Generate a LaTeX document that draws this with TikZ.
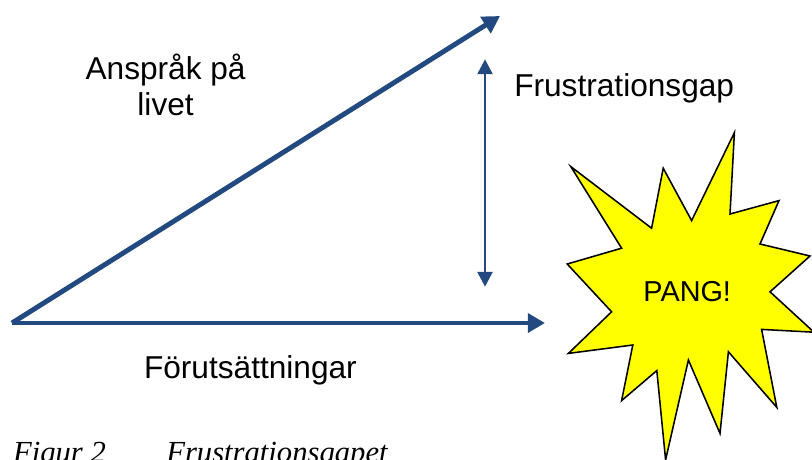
\documentclass[tikz,border=0pt]{standalone}
\usepackage{fontspec}
\setmainfont{Liberation Sans}
\newfontfamily\captionfont{Liberation Serif}
\usetikzlibrary{arrows.meta}
\definecolor{pilblue}{RGB}{34,74,128}
\definecolor{pangyellow}{RGB}{255,255,0}

\begin{document}
\begin{tikzpicture}[
    font=\fontsize{22.5}{25.5}\selectfont,
    thickarrow/.style={draw=pilblue, line width=3.5pt, -{Triangle[length=0.43cm, width=0.47cm]}},
    gaparrow/.style={draw=pilblue, line width=1.4pt, {Triangle[length=0.37cm, width=0.38cm]}-{Triangle[length=0.37cm, width=0.38cm]}},
    label/.style={inner sep=0, anchor=base},
    burst/.style={draw=black, line width=1.1pt, fill=pangyellow, line join=miter}
]
\useasboundingbox (0,0) rectangle (20.3,11.475);

% ============================================
% PUNKTER
% ============================================
\coordinate (origo) at (0.3, 3.4);
\coordinate (ansprak) at (12.5, 11.075);
\coordinate (forut) at (13.625, 3.4);
\coordinate (gaptop) at (12.125, 9.99);
\coordinate (gapbot) at (12.125, 4.31);

% ============================================
% PILAR
% ============================================
\draw[thickarrow] (origo) -- (ansprak);
\draw[thickarrow] (origo) -- (forut);
\draw[gaparrow] (gapbot) -- (gaptop);

% ============================================
% TEXTER
% ============================================
\node[label] (anspraktext) at (4.14, 9.49) {Anspråk på};
\node[label] (livettext) at (4.14, 8.6) {livet};
\node[label, anchor=base west] (gaptext) at (12.85, 9.06) {Frustrationsgap};
\node[label] (forutext) at (6.26, 2.02) {Förutsättningar};

% ============================================
% PANG
% ============================================
\draw[burst] (18.36, 8.16) -- (18.25, 6.125) -- (19.475, 6.46) -- (19.0, 5.375)
    -- (20.25, 5.075) -- (19.25, 4.18) -- (20.35, 3.17) -- (19.04, 3.24)
    -- (19.42, 1.29) -- (18.21, 2.68) -- (18.0, 0.64) -- (17.21, 2.475)
    -- (16.64, -0.02) -- (16.42, 2.21) -- (15.54, 1.46) -- (15.82, 2.85)
    -- (14.21, 2.64) -- (15.29, 3.68) -- (14.18, 4.875) -- (15.54, 5.27)
    -- (14.27, 7.31) -- (16.29, 5.77) -- (16.58, 7.27) -- (17.29, 5.96) -- cycle;
\node[label, font=\fontsize{20.5}{24}\selectfont] (pang) at (17.18, 3.95) {PANG!};

% ============================================
% FIGURTEXT
% ============================================
\node[label, anchor=base west, font=\captionfont\itshape\fontsize{21.8}{26}\selectfont] (figurnr) at (0.32, -0.08) {Figur 2};
\node[label, anchor=base west, font=\captionfont\itshape\fontsize{21.8}{26}\selectfont] (figurnamn) at (4.15, -0.08) {Frustrationsgapet};

\end{tikzpicture}
\end{document}
